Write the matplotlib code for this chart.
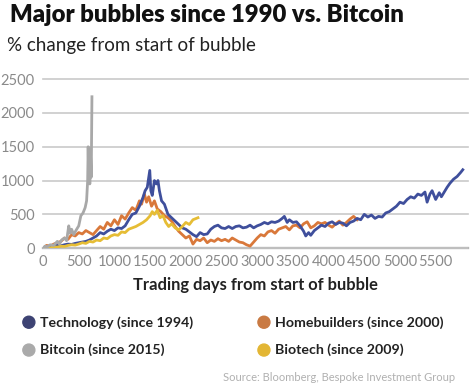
import matplotlib.pyplot as plt

# data (trading day, % change)
tech_days = [0, 50, 100, 150, 200, 250, 300, 350, 400, 450, 500, 550, 600, 650, 700, 750, 800, 850, 900, 950,
             1000, 1050, 1100, 1150, 1200, 1250, 1300, 1350, 1400, 1430, 1460, 1495, 1510, 1530, 1560, 1590,
             1610, 1630, 1660, 1700, 1750, 1800, 1850, 1900, 1950, 2000, 2050, 2100, 2150, 2200, 2250, 2300,
             2350, 2400, 2450, 2500, 2550, 2600, 2650, 2700, 2750, 2800, 2850, 2900, 2950, 3000, 3050, 3100,
             3150, 3200, 3250, 3300, 3350, 3380, 3420, 3450, 3500, 3550, 3600, 3650, 3680, 3720, 3750, 3800,
             3850, 3900, 3950, 4000, 4050, 4100, 4150, 4200, 4250, 4300, 4350, 4400, 4450, 4500, 4550, 4600,
             4650, 4700, 4750, 4800, 4850, 4900, 4950, 5000, 5050, 5100, 5150, 5200, 5250, 5300, 5350, 5380,
             5420, 5450, 5500, 5550, 5580, 5620, 5660, 5700, 5750, 5800, 5850, 5880]
tech_vals = [0, 10, 20, 30, 40, 35, 50, 60, 55, 70, 80, 90, 100, 120, 150, 180, 230, 210, 250, 280,
             260, 300, 290, 330, 420, 500, 520, 620, 750, 850, 900, 1150, 850, 780, 1000, 950,
             1000, 850, 700, 650, 500, 450, 400, 350, 300, 280, 240, 200, 170, 230, 200, 210,
             280, 320, 340, 300, 290, 320, 290, 320, 330, 300, 310, 340, 300, 330, 350, 380,
             360, 390, 380, 400, 440, 470, 380, 420, 380, 390, 330, 250, 180, 230, 190, 260,
             300, 340, 320, 370, 390, 350, 380, 370, 330, 380, 400, 440, 420, 500, 460, 490,
             440, 470, 460, 520, 540, 580, 620, 680, 660, 720, 760, 740, 800, 780, 830, 680,
             800, 850, 720, 820, 760, 830, 900, 960, 1020, 1060, 1120, 1160]

home_days = [0, 50, 100, 150, 200, 250, 300, 350, 400, 450, 500, 550, 600, 650, 700, 750, 800, 850, 900, 950,
             1000, 1050, 1100, 1150, 1200, 1250, 1300, 1350, 1380, 1420, 1450, 1480, 1520, 1560, 1600, 1650,
             1700, 1750, 1800, 1850, 1900, 1950, 2000, 2050, 2100, 2150, 2200, 2250, 2300, 2350, 2400, 2450,
             2500, 2550, 2600, 2650, 2700, 2750, 2800, 2850, 2900, 2950, 3000, 3050, 3100, 3150, 3200, 3250,
             3300, 3350, 3400, 3450, 3500, 3550, 3600, 3650, 3700, 3750, 3800, 3850, 3900, 3950, 4000, 4050,
             4100, 4150, 4200, 4250, 4300, 4350, 4400]
home_vals = [0, 40, 30, 60, 80, 100, 150, 130, 200, 180, 230, 210, 260, 230, 200, 260, 320, 280, 380, 330,
             420, 350, 480, 430, 520, 600, 560, 700, 650, 800, 680, 760, 620, 700, 580, 540,
             480, 450, 400, 320, 250, 200, 150, 180, 60, 130, 110, 150, 80, 120, 100, 140,
             110, 130, 100, 150, 120, 90, 80, 50, 30, 90, 150, 200, 180, 240, 260, 220,
             280, 300, 320, 270, 330, 340, 300, 360, 390, 300, 330, 380, 360, 380, 340, 310,
             360, 400, 340, 380, 430, 470, 420]

bio_days = [0, 50, 100, 150, 200, 250, 300, 350, 400, 450, 500, 550, 600, 650, 700, 750, 800, 850, 900, 950,
            1000, 1050, 1100, 1150, 1200, 1250, 1300, 1350, 1400, 1450, 1500, 1530, 1560, 1600, 1640, 1680,
            1720, 1760, 1800, 1850, 1900, 1950, 2000, 2050, 2100, 2170]
bio_vals = [0, 10, 5, 20, 15, 30, 25, 40, 50, 45, 60, 80, 70, 100, 90, 120, 110, 150, 140, 180,
            200, 190, 240, 230, 280, 300, 320, 350, 380, 420, 480, 540, 500, 560, 450, 480,
            380, 320, 360, 300, 270, 320, 380, 350, 420, 450]

btc_days = [0, 30, 60, 100, 150, 200, 230, 260, 300, 330, 360, 380, 400, 430, 460, 500, 530, 560, 590,
            610, 625, 632, 640, 648, 655, 665, 675, 685]
btc_vals = [0, 30, 20, 50, 40, 100, 60, 120, 150, 110, 330, 220, 280, 200, 260, 330, 480, 520, 600,
            700, 1000, 1500, 1050, 1480, 950, 1400, 1050, 2240]

yticks = [0, 500, 1000, 1500, 2000, 2500]
xticks = [0, 500, 1000, 1500, 2000, 2500, 3000, 3500, 4000, 4500, 5000, 5500]

plt.rcParams['font.family'] = ['Lato', 'DejaVu Sans']

fig = plt.figure(figsize=(4.73, 3.92), dpi=100)
ax = fig.add_axes([0.091, 0.367, 0.898, 0.431])

ax.plot(home_days, home_vals, color='#d9783a', lw=2.0)
ax.plot(tech_days, tech_vals, color='#3f4f9c', lw=2.0)
ax.plot(bio_days, bio_vals, color='#e6bd35', lw=2.0)
ax.plot(btc_days, btc_vals, color='#a8a8a8', lw=2.0)

ax.set_xlim(0, 5950)
ax.set_ylim(0, 2500)
ax.set_yticks(yticks)
ax.set_xticks(xticks)
for s in ax.spines.values():
    s.set_visible(False)
ax.grid(axis='y', color='#c9c9c9', lw=1.2, clip_on=False)
ax.axhline(0, color='#8c8c8c', lw=1.6, clip_on=False, zorder=0)
ax.tick_params(length=0, labelsize=10.5, labelcolor='#8a8a8a')
ax.tick_params(axis='y', pad=6)
ax.tick_params(axis='x', pad=5)
ax.set_axisbelow(True)
ax.set_xlabel('Trading days from start of bubble', fontsize=11.9, fontweight='bold',
              color='#222222', labelpad=6)

fig.text(0.021, 0.962, 'Major bubbles since 1990 vs. Bitcoin', fontsize=17.2, fontweight='heavy',
         color='#111111', va='center')
fig.text(0.015, 0.885, '% change from start of bubble', fontsize=13.5, color='#222222', va='center')

legend_items = [('Technology (since 1994)', '#3d4373', 0.061, 0.178),
                ('Homebuilders (since 2000)', '#c97a43', 0.558, 0.178),
                ('Bitcoin (since 2015)', '#aaaaaa', 0.061, 0.107),
                ('Biotech (since 2009)', '#e3b634', 0.558, 0.107)]
for label, col, x, y in legend_items:
    fig.patches.append(plt.Circle((x * 473, y * 392), 6, transform=None, color=col))
    fig.text(x + 0.023, y, label, fontsize=10.2, fontweight='bold', color='#222222', va='center')

fig.text(0.962, 0.036, 'Source: Bloomberg, Bespoke Investment Group', fontsize=8.0,
         color='#b0b0b0', ha='right', va='center')

fig.savefig('out.png', dpi=100)
